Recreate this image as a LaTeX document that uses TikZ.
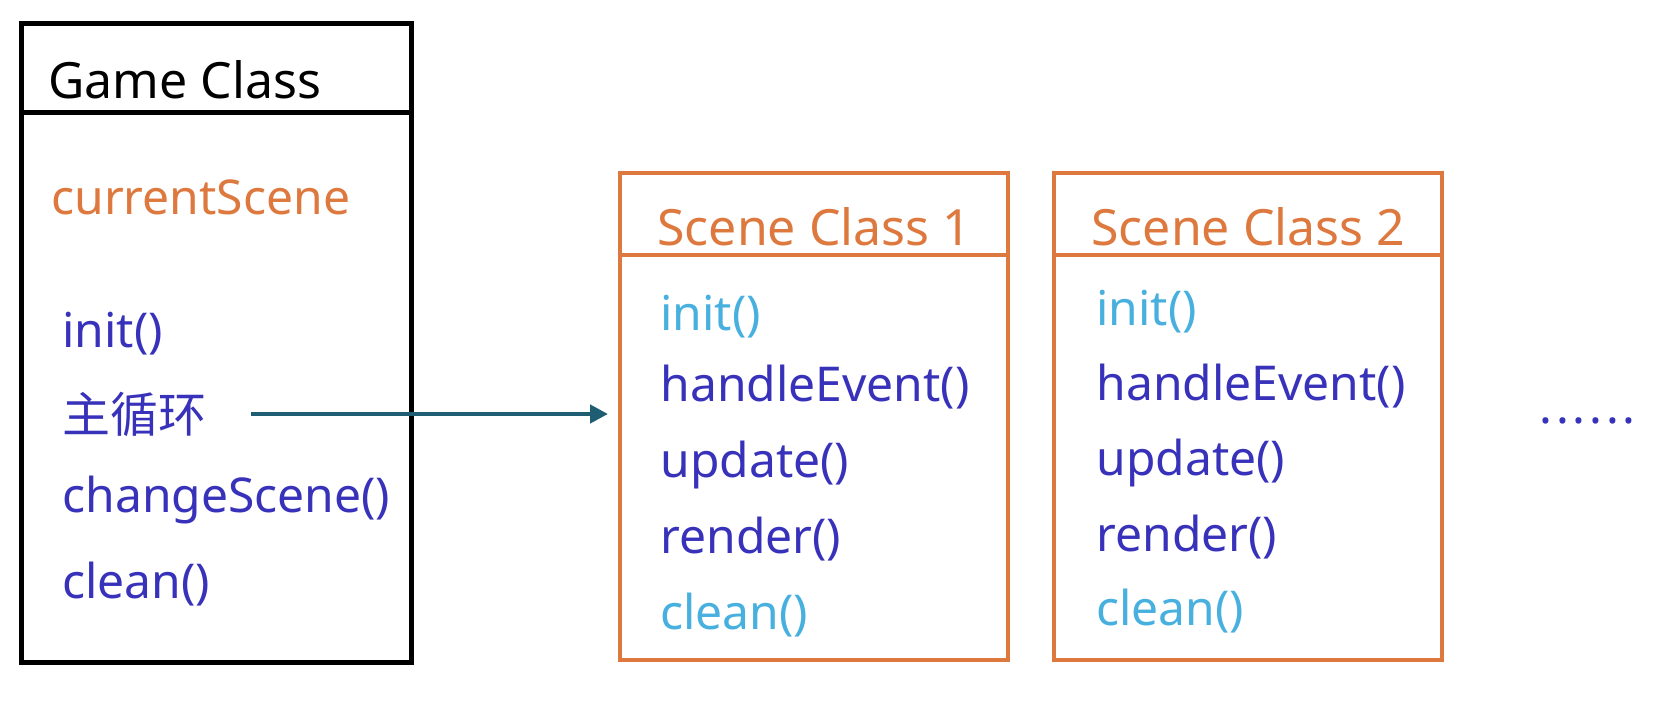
\documentclass[tikz,border=0pt]{standalone}
\usepackage{fontspec}
\setmainfont{Noto Sans}
\newfontfamily\cjkfont{Noto Sans CJK SC}
\usetikzlibrary{arrows.meta,positioning}
\definecolor{classorange}{RGB}{221,121,62}
\definecolor{methodblue}{RGB}{56,50,186}
\definecolor{hookblue}{RGB}{72,176,222}
\definecolor{flowteal}{RGB}{31,94,114}
\tikzset{
    every node/.style={font=\fontsize{24}{28}\selectfont},
    classbox/.style={rectangle, draw, line width=2.5pt, minimum width=195pt, minimum height=319.5pt, inner sep=0pt},
    scenebox/.style={rectangle, draw=classorange, line width=2pt, minimum width=194pt, minimum height=243.5pt, inner sep=0pt},
    classtitle/.style={anchor=west, inner sep=0pt, font=\fontsize{25}{28}\selectfont},
    method/.style={anchor=west, inner sep=0pt, text=methodblue},
    hook/.style={method, text=hookblue},
    flow/.style={-{Triangle[length=9pt,width=9pt]}, line width=2.2pt, draw=flowteal}
}

\begin{document}
\begin{tikzpicture}[x=0.5pt, y=-0.5pt]
\useasboundingbox (0,0) rectangle (1668,713);

% game class
\node[classbox] (game) at (216,342.5) {};
\draw[line width=2.5pt] ([yshift=-46pt]game.north west) -- ([yshift=-46pt]game.north east);
\node[classtitle] (gametitle) at (48,80) {Game Class};
\node[method, text=classorange] (current) at (51,197) {currentScene};
\node[method] (ginit) at (62,334) {init()};
\node[method] (loop) at ([yshift=-40pt]ginit.west) {\cjkfont 主循环};
\node[method] (change) at ([yshift=-43pt]loop.west) {changeScene()};
\node[method] (gclean) at ([yshift=-42pt]change.west) {clean()};

% scene classes
\node[scenebox] (scene1) at (814,416.5) {};
\draw[line width=2pt, classorange] ([yshift=-41.75pt]scene1.north west) -- ([yshift=-41.75pt]scene1.north east);
\node[classtitle, text=classorange] (s1title) at (657,227) {Scene Class 1};
\node[hook] (s1init) at (660,317) {init()};
\node[method] (s1event) at ([yshift=-35pt]s1init.west) {handleEvent()};
\node[method] (s1update) at ([yshift=-39pt]s1event.west) {update()};
\node[method] (s1render) at ([yshift=-37pt]s1update.west) {render()};
\node[hook] (s1clean) at ([yshift=-38pt]s1render.west) {clean()};

\node[scenebox] (scene2) at (1248,416.5) {};
\draw[line width=2pt, classorange] ([yshift=-41.75pt]scene2.north west) -- ([yshift=-41.75pt]scene2.north east);
\node[classtitle, text=classorange] (s2title) at (1091,227) {Scene Class 2};
\node[hook] (s2init) at (1096,312) {init()};
\node[method] (s2event) at ([yshift=-37pt]s2init.west) {handleEvent()};
\node[method] (s2update) at ([yshift=-38.5pt]s2event.west) {update()};
\node[method] (s2render) at ([yshift=-37pt]s2update.west) {render()};
\node[hook] (s2clean) at ([yshift=-37pt]s2render.west) {clean()};

\node[method] (more) at (1539,421) {.\kern1.9pt.\kern1.9pt.\kern1.9pt.\kern1.9pt.\kern1.9pt.};

\draw[flow] ([xshift=22pt]loop.east) -- ([xshift=-5pt]loop.east -| scene1.west);

\end{tikzpicture}
\end{document}
